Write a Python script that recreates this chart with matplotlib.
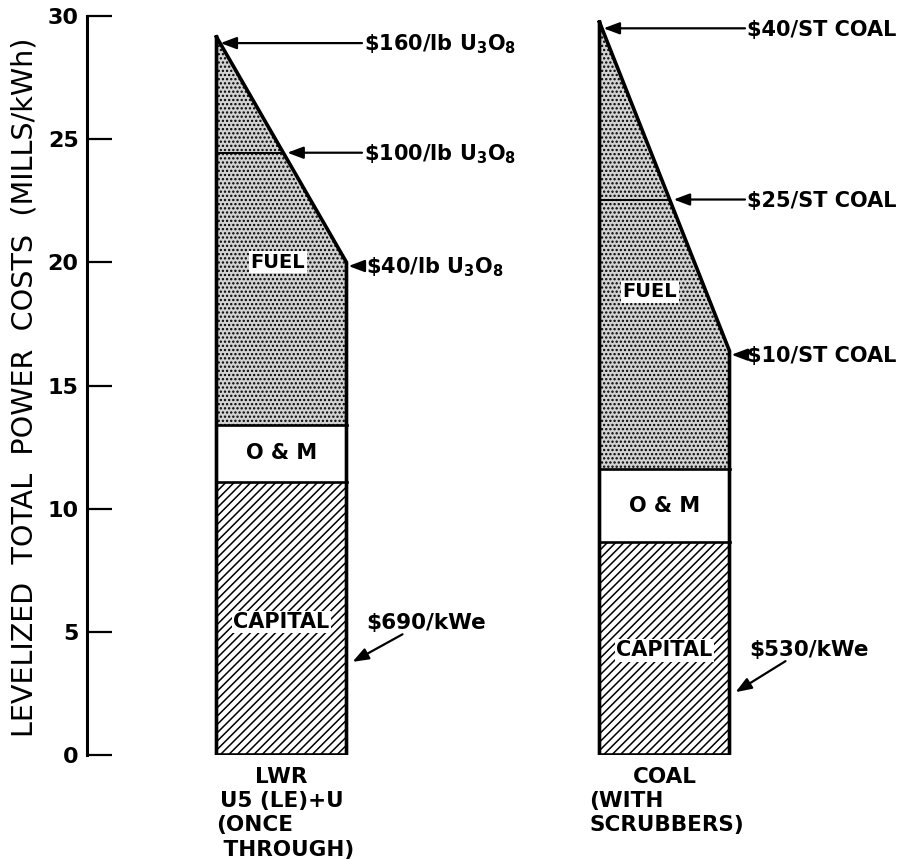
import matplotlib
matplotlib.use('Agg')
import matplotlib.pyplot as plt

plt.rcParams['font.family'] = ['DejaVu Sans']
plt.rcParams['font.weight'] = 'bold'
plt.rcParams['mathtext.default'] = 'regular'
plt.rcParams['hatch.linewidth'] = 1.1

# levelized cost components (mills/kWh)
plants = ['LWR', 'COAL']
capital = [11.1, 8.65]
om = [2.3, 2.95]
fuel_low = [6.6, 4.8]       # fuel cost at the lowest fuel price
fuel_mid = [11.05, 10.95]   # fuel cost at the middle fuel price
fuel_high = [15.75, 18.15]  # fuel cost at the highest fuel price

price_low = [r'\$40/lb U$_3$O$_8$', '$10/ST COAL']
price_mid = [r'\$100/lb U$_3$O$_8$', '$25/ST COAL']
price_high = [r'\$160/lb U$_3$O$_8$', '$40/ST COAL']
capital_cost = ['$690/kWe', '$530/kWe']

plant_lines = [
    [('LWR', 'center'), ('U5 (LE)+U', 'center'), ('(ONCE', 'left'), (' THROUGH)', 'left')],
    [('COAL', 'center'), ('(WITH', 'left'), ('SCRUBBERS)', 'left')],
]

# layout (pixel-like x coordinates)
x_center = [281.5, 664.5]
bar_w = 130

fig = plt.figure(figsize=(9.14, 8.61), dpi=100)
ax = fig.add_axes([87 / 914, 106 / 861, 827 / 914, 739 / 861])
ax.set_xlim(87, 914)
ax.set_ylim(0, 30)

arrow = dict(arrowstyle='-|>,head_length=0.8,head_width=0.3', color='black',
             lw=1.6, mutation_scale=12, shrinkA=0, shrinkB=0)
box = dict(facecolor='white', edgecolor='none', pad=1)

for i in range(len(plants)):
    xc = x_center[i]
    left, right = xc - bar_w / 2, xc + bar_w / 2
    c_top = capital[i]
    o_top = c_top + om[i]
    f_low = o_top + fuel_low[i]
    f_mid = o_top + fuel_mid[i]
    f_high = o_top + fuel_high[i]

    ax.bar(xc, capital[i], bar_w, color='white', edgecolor='black', hatch='////', linewidth=0)
    ax.bar(xc, om[i], bar_w, bottom=c_top, color='white', linewidth=0)
    ax.fill([left, right, right, left], [o_top, o_top, f_low, f_high],
            facecolor='#d2d2d2', edgecolor='black', hatch='....', linewidth=0)

    # middle fuel price line
    x_mid = left + (f_high - f_mid) / (f_high - f_low) * bar_w
    ax.plot([left, x_mid], [f_mid, f_mid], color='black', lw=1.4)

    # separators and outline
    ax.plot([left, right], [c_top, c_top], color='black', lw=1.9)
    ax.plot([left, right], [o_top, o_top], color='black', lw=1.9)
    ax.plot([left, left, right, right, left], [f_high, 0, 0, f_low, f_high],
            color='black', lw=2.6, solid_joinstyle='miter')

    fuel_y = [20.0, 18.8][i]
    fuel_x = [278, 650][i]
    ax.text(fuel_x, fuel_y, 'FUEL', ha='center', va='center', fontsize=14, bbox=box)
    ax.text(xc, c_top + om[i] / 2, 'O & M', ha='center', va='center', fontsize=15)
    cap_y = [5.4, 4.26][i]
    ax.text(xc, cap_y, 'CAPITAL', ha='center', va='center', fontsize=15, bbox=box)

    # fuel price annotations
    tx = [362, 745][i]
    ax.annotate('', xy=(left + 4, f_high - 0.25), xytext=(tx, f_high - 0.25), arrowprops=arrow)
    ax.text(tx + 2, f_high - 0.3, price_high[i], ha='left', va='center', fontsize=15)
    ax.annotate('', xy=(x_mid + 4, f_mid), xytext=(tx, f_mid), arrowprops=arrow)
    ax.text(tx + 2, f_mid - 0.05, price_mid[i], ha='left', va='center', fontsize=15)
    lx = [364, 745][i]
    ax.annotate('', xy=(right + 2, f_low - 0.15), xytext=(lx, f_low - 0.15), arrowprops=arrow)
    ax.text(lx + 2, f_low - 0.2, price_low[i], ha='left', va='center', fontsize=15)

    # capital cost annotation
    cc_y = [5.35, 4.26][i]
    ax.text(right + 20, cc_y, capital_cost[i], ha='left', va='center', fontsize=15.5)
    tip_y = [3.78, 2.55][i]
    ax.annotate('', xy=(right + 6, tip_y), xytext=(right + 56, cc_y - 0.45), arrowprops=arrow)

    # plant label below the bar
    for k, (line, align) in enumerate(plant_lines[i]):
        px = xc if align == 'center' else left + [0, -10][i]
        ax.text(px, -0.9 - k * 0.98, line, ha=align, va='center', fontsize=15.5, clip_on=False)

for s in ['top', 'right', 'bottom']:
    ax.spines[s].set_visible(False)
ax.spines['left'].set_linewidth(2.2)
ax.set_xticks([])
ax.set_yticks([0, 5, 10, 15, 20, 25, 30])
ax.set_yticklabels(['0', '5', '10', '15', '20', '25', '30'])
ax.tick_params(axis='y', direction='in', length=18, width=1.6, labelsize=16, pad=6)

fig.text(25 / 914, 1 - 387 / 861, 'LEVELIZED  TOTAL  POWER  COSTS  (MILLS/kWh)',
         rotation=90, ha='center', va='center', fontsize=20.6, fontweight='normal')

fig.savefig('out.png', dpi=100)
